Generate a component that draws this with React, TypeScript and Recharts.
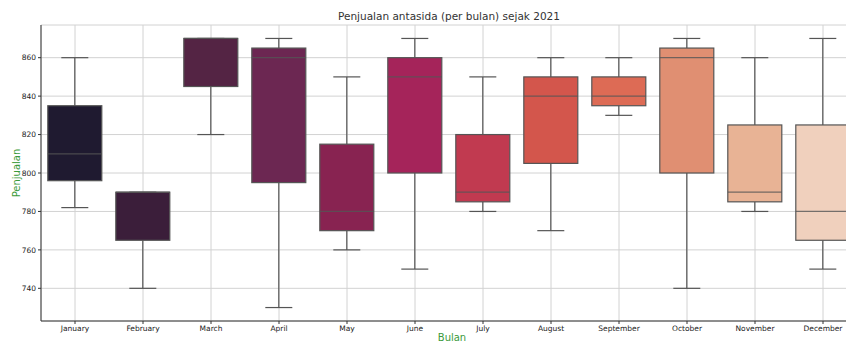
import { ComposedChart, Bar, XAxis, YAxis, CartesianGrid } from 'recharts'

// Box plot statistics per month
const months = ['January', 'February', 'March', 'April', 'May', 'June', 'July', 'August', 'September', 'October', 'November', 'December']
const lows = [782, 740, 820, 730, 760, 750, 780, 770, 830, 740, 780, 750]
const q1s = [796, 765, 845, 795, 770, 800, 785, 805, 835, 800, 785, 765]
const medians = [810, 790, 870, 860, 780, 850, 790, 840, 840, 860, 790, 780]
const q3s = [835, 790, 870, 865, 815, 860, 820, 850, 850, 865, 825, 825]
const highs = [860, 790, 870, 870, 850, 870, 850, 860, 860, 870, 860, 870]
const yTicks = [740, 760, 780, 800, 820, 840, 860]

const COLORS = [
  '#1f1a30', '#3b1e3a', '#542444', '#6c2752', '#882351', '#a5245a',
  '#c13a50', '#d3564c', '#dd6b55', '#e08f72', '#e8b395', '#f0d0bd'
]

const LINE = '#555'
const FONT = '"DejaVu Sans", sans-serif'

const data = months.map((m, i) => ({
  name: m,
  range: [lows[i], highs[i]],
  low: lows[i],
  q1: q1s[i],
  median: medians[i],
  q3: q3s[i],
  high: highs[i],
  color: COLORS[i],
}))

const lo = Math.min(...lows)
const hi = Math.max(...highs)
const pad = (hi - lo) * 0.05

// whole box is drawn from the whisker bar: pixel positions come from the bar's own geometry
const BoxShape = (props: any) => {
  const { x, y, width, height, payload } = props
  const top = Math.min(y, y + height)
  const h = Math.abs(height)
  const span = payload.high - payload.low
  const toPx = (v: number) => top + (h * (payload.high - v)) / span
  const cx = x + width / 2
  const capHalf = width / 4
  const yQ1 = toPx(payload.q1)
  const yQ3 = toPx(payload.q3)
  const yMed = toPx(payload.median)
  return (
    <g>
      <line x1={cx} x2={cx} y1={toPx(payload.high)} y2={yQ3} stroke={LINE} strokeWidth={1.2} />
      <line x1={cx} x2={cx} y1={yQ1} y2={toPx(payload.low)} stroke={LINE} strokeWidth={1.2} />
      <line x1={cx - capHalf} x2={cx + capHalf} y1={toPx(payload.high)} y2={toPx(payload.high)} stroke={LINE} strokeWidth={1.2} />
      <line x1={cx - capHalf} x2={cx + capHalf} y1={toPx(payload.low)} y2={toPx(payload.low)} stroke={LINE} strokeWidth={1.2} />
      <rect x={x} y={yQ3} width={width} height={yQ1 - yQ3} fill={payload.color} stroke={LINE} strokeWidth={1.2} />
      <line x1={x} x2={x + width} y1={yMed} y2={yMed} stroke={LINE} strokeOpacity={0.8} strokeWidth={1.2} />
    </g>
  )
}

export default function App() {
  return (
    <div style={{ position: 'absolute', left: 0, top: 0, width: 846, height: 344, overflow: 'hidden', background: '#fff' }}>
      <div style={{ position: 'absolute', left: 0, top: 10, width: 898, textAlign: 'center', fontFamily: FONT, fontSize: 10.5, color: '#333' }}>
        Penjualan antasida (per bulan) sejak 2021
      </div>
      <div style={{ position: 'absolute', left: 3, top: 332, width: 898, textAlign: 'center', fontFamily: FONT, fontSize: 10, color: '#3a9a3a' }}>
        Bulan
      </div>
      <div style={{ position: 'absolute', left: 16, top: 173, transform: 'translate(-50%, -50%) rotate(-90deg)', fontFamily: FONT, fontSize: 10, color: '#3a9a3a', whiteSpace: 'nowrap' }}>
        Penjualan
      </div>
      <ComposedChart
        width={860}
        height={344}
        data={data}
        margin={{ top: 25, right: 3, left: 0, bottom: 0 }}
        barCategoryGap="10%"
        style={{ position: 'absolute', left: 0, top: 0 }}
      >
        <CartesianGrid stroke="#d2d2d2" strokeWidth={1} />
        <XAxis
          dataKey="name"
          height={23}
          stroke="#333"
          tickLine={{ stroke: '#333' }}
          tickSize={3}
          tick={{ fontSize: 7.5, fill: '#222', fontFamily: FONT }}
          interval={0}
        />
        <XAxis xAxisId="top" dataKey="name" orientation="top" height={0} tick={false} tickLine={false} stroke="#333" />
        <YAxis
          width={41}
          domain={[lo - pad, hi + pad]}
          ticks={yTicks}
          stroke="#333"
          tickSize={3}
          tickLine={{ stroke: '#333' }}
          tick={{ fontSize: 7.5, fill: '#222', fontFamily: FONT }}
          allowDataOverflow
        />
        <Bar dataKey="range" shape={BoxShape} isAnimationActive={false} />
      </ComposedChart>
    </div>
  )
}
